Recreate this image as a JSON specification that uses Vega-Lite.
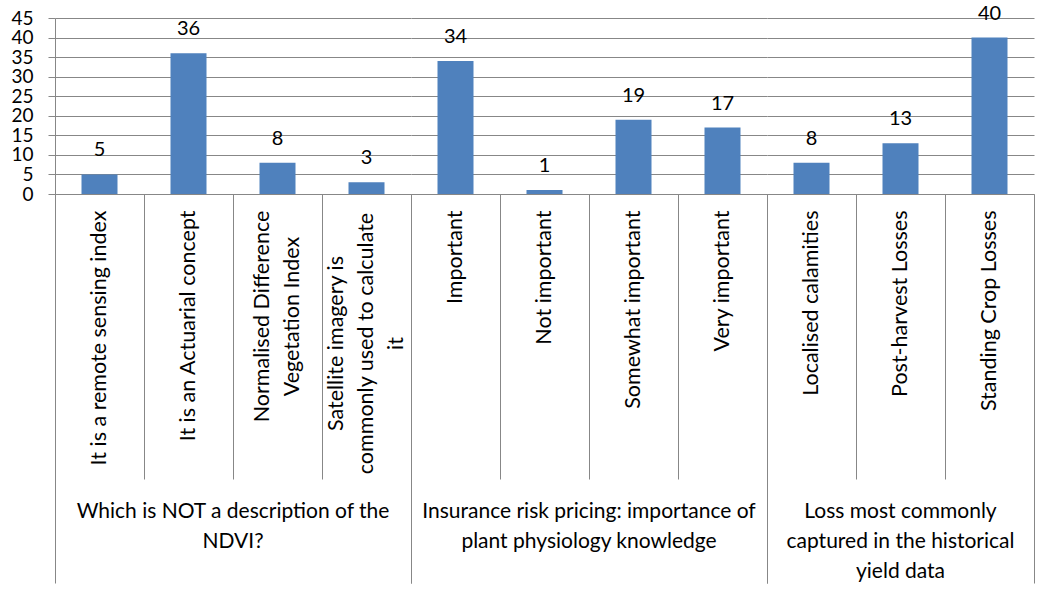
{
  "$schema": "https://vega.github.io/schema/vega-lite/v6.json",
  "background": "white",
  "padding": {"left": 10, "top": 3, "right": 10, "bottom": 0},
  "bounds": "flush",
  "config": {"font": "Lato", "view": {"stroke": null}},
  "data": {
    "values": [
      {"group": "Which is NOT a description of the\nNDVI?", "option": "It is a remote sensing index", "count": 5},
      {"group": "Which is NOT a description of the\nNDVI?", "option": "It is an Actuarial concept", "count": 36},
      {"group": "Which is NOT a description of the\nNDVI?", "option": "Normalised Difference\nVegetation Index", "count": 8},
      {"group": "Which is NOT a description of the\nNDVI?", "option": "Satellite imagery is\ncommonly used to calculate\nit", "count": 3},
      {"group": "Insurance risk pricing: importance of\nplant physiology knowledge", "option": "Important", "count": 34},
      {"group": "Insurance risk pricing: importance of\nplant physiology knowledge", "option": "Not important", "count": 1},
      {"group": "Insurance risk pricing: importance of\nplant physiology knowledge", "option": "Somewhat important", "count": 19},
      {"group": "Insurance risk pricing: importance of\nplant physiology knowledge", "option": "Very important", "count": 17},
      {"group": "Loss most commonly\ncaptured in the historical\nyield data", "option": "Localised calamities", "count": 8},
      {"group": "Loss most commonly\ncaptured in the historical\nyield data", "option": "Post-harvest Losses", "count": 13},
      {"group": "Loss most commonly\ncaptured in the historical\nyield data", "option": "Standing Crop Losses", "count": 40}
    ]
  },
  "facet": {
    "column": {
      "field": "group",
      "type": "nominal",
      "sort": [
        "Which is NOT a description of the\nNDVI?",
        "Insurance risk pricing: importance of\nplant physiology knowledge",
        "Loss most commonly\ncaptured in the historical\nyield data"
      ],
      "title": null,
      "header": {
        "labelOrient": "bottom",
        "labelFont": "Lato",
        "labelFontSize": 21,
        "labelColor": "#000000",
        "labelLineHeight": 30,
        "labelBaseline": "top",
        "labelPadding": 307,
        "labelLimit": 0,
        "labelExpr": "split(datum.label, '\\n')"
      }
    }
  },
  "spacing": 0,
  "resolve": {"scale": {"x": "independent"}},
  "spec": {
    "width": {"step": 89},
    "height": 176,
    "encoding": {
      "x": {
        "field": "option",
        "type": "nominal",
        "sort": null,
        "scale": {"paddingInner": 0, "paddingOuter": 0},
        "axis": {
          "title": null,
          "orient": "bottom",
          "labelAngle": -90,
          "labelAlign": {"condition": {"test": "length(split(datum.label, '\\n')) > 1", "value": "center"}, "value": "right"},
          "labelBaseline": "middle",
          "labelFontSize": 21.5,
          "labelColor": "#000000",
          "labelLineHeight": 30,
          "labelLimit": 0,
          "labelOverlap": false,
          "labelExpr": "split(datum.label, '\\n')",
          "labelOffset": {
            "condition": [
              {"test": "length(split(datum.label, '\\n')) == 3", "value": -30},
              {"test": "length(split(datum.label, '\\n')) == 2", "value": -15}
            ],
            "value": 0
          },
          "tickBand": "extent",
          "tickColor": "#878787",
          "tickWidth": 1,
          "tickSize": {"condition": {"test": "datum.extra || !(datum.index >= 0 && datum.index < 1)", "value": 389}, "value": 285},
          "labelPadding": {
            "condition": [
              {"test": "length(split(datum.label, '\\n')) == 3 && (datum.extra || !(datum.index >= 0 && datum.index < 1))", "value": -240},
              {"test": "length(split(datum.label, '\\n')) == 3", "value": -136},
              {"test": "length(split(datum.label, '\\n')) == 2 && (datum.extra || !(datum.index >= 0 && datum.index < 1))", "value": -267},
              {"test": "length(split(datum.label, '\\n')) == 2", "value": -163},
              {"test": "datum.extra || !(datum.index >= 0 && datum.index < 1)", "value": -373}
            ],
            "value": -269
          },
          "domainColor": "#878787",
          "grid": false
        }
      },
      "y": {
        "field": "count",
        "type": "quantitative",
        "scale": {"domain": [0, 45]},
        "axis": {
          "title": null,
          "values": [0, 5, 10, 15, 20, 25, 30, 35, 40, 45],
          "labelOverlap": false,
          "labelFontSize": 19,
          "labelColor": "#000000",
          "labelPadding": 15,
          "tickSize": 7,
          "tickColor": "#878787",
          "domainColor": "#878787",
          "grid": true,
          "gridColor": "#878787",
          "gridOpacity": 1
        }
      }
    },
    "layer": [
      {"mark": {"type": "bar", "color": "#4F81BD", "size": 36}},
      {
        "mark": {"type": "text", "baseline": "bottom", "dy": -14, "fontSize": 20, "color": "#000000"},
        "encoding": {"text": {"field": "count", "type": "quantitative"}}
      }
    ]
  }
}
